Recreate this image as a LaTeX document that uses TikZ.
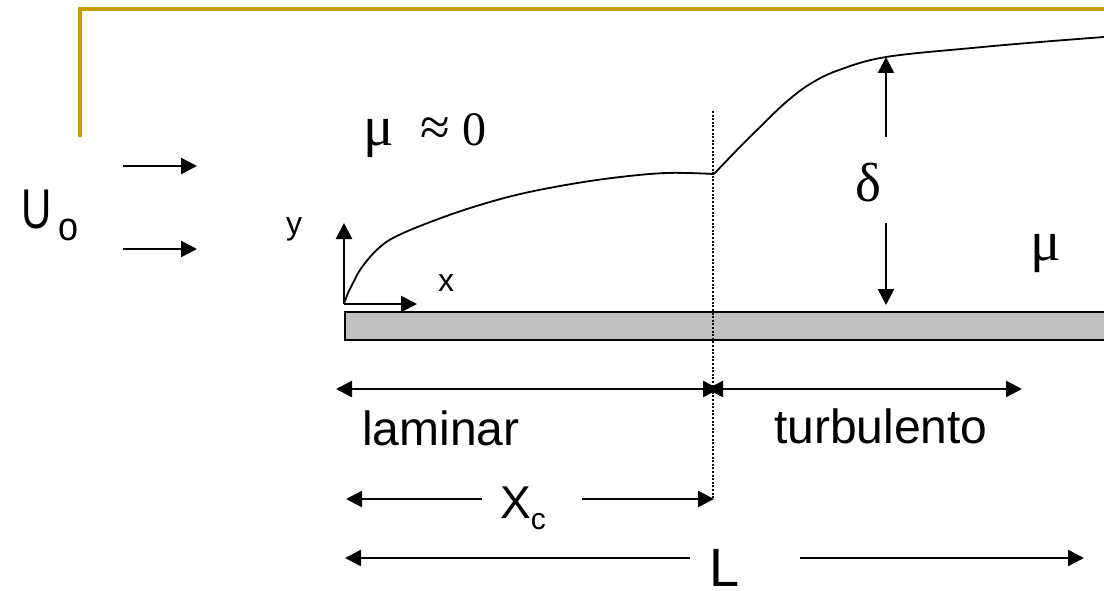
\documentclass[tikz,border=0pt]{standalone}
\usepackage{fontspec}
\usepackage{graphicx}
\setmainfont{Liberation Sans}
\newfontfamily\serifgr{Liberation Serif}
\usetikzlibrary{arrows.meta}
\definecolor{goldline}{RGB}{204,153,0}
\definecolor{plategray}{RGB}{192,192,192}
\tikzset{
  arr/.style={line width=2.5pt, -{Triangle[length=16pt,width=16pt]}},
  dimarr/.style={line width=2.5pt, {Triangle[length=16pt,width=16pt]}-{Triangle[length=16pt,width=16pt]}},
  lbl/.style={inner sep=0pt, anchor=base west},
  bl/.style={line width=1.8pt, line join=round},
}
\begin{document}
\begin{tikzpicture}[x=1pt,y=-1pt]
\useasboundingbox (0,0) rectangle (1104,591);
% gold frame
\draw[goldline, line width=4.5pt, line join=miter] (80,137) -- (80,9) -- (1104,9);
% plate
\node[draw, line width=1.8pt, fill=plategray, minimum width=764pt, minimum height=28pt, inner sep=0pt, anchor=north west] (plate) at (344,311) {};
% transition dotted line
\coordinate (dtop) at (713,111);
\coordinate (dbot) at (713,499);
\draw[line width=1.8pt, dash pattern=on 2pt off 1.6pt] (dtop) -- (dbot);
% boundary layer
\draw[bl] plot[smooth, tension=0.6] coordinates {(344,304) (348,293) (353,283) (360,270) (370,257) (380,247) (393,238) (420,226) (464,210) (512,196) (560,186) (612,178) (666,173) (714,174)};
\draw[bl] plot[smooth, tension=0.6] coordinates {(714,174) (735,152) (757,130) (785,103) (810,84) (839,70) (886,57) (972,48) (1040,42) (1104,37)};
% flow arrows
\coordinate (f1a) at (123,166); \coordinate (f1b) at (197,166);
\coordinate (f2a) at (123,249); \coordinate (f2b) at (197,249);
\draw[arr] (f1a) -- (f1b);
\draw[arr] (f2a) -- (f2b);
\node[lbl] (uo) at (21,229) {\fontsize{56}{56}\selectfont\scalebox{0.75}[1]{U}\hspace{7pt}\raisebox{-12pt}{\fontsize{40}{40}\selectfont\scalebox{0.9}[1]{o}}};
% axes
\coordinate (orig) at (344,304);
\coordinate (ytip) at (344,223);
\coordinate (xtip) at (417,304);
\draw[arr] (orig) -- (ytip);
\draw[arr] (orig) -- (xtip);
\node[inner sep=0pt, anchor=base] (ylab) at (294,235) {\fontsize{32}{32}\selectfont y};
\node[inner sep=0pt, anchor=base] (xlab) at (446,291) {\fontsize{32}{32}\selectfont x};
% mu approx 0
\node[lbl] (mu0) at (363,146) {\serifgr\makebox[57pt][l]{\fontsize{57}{57}\selectfont μ}\makebox[42pt][l]{\fontsize{54}{54}\selectfont ≈}\fontsize{48}{48}\selectfont 0};
% delta
\coordinate (dtopt) at (886,57);
\coordinate (dtopb) at (886,137);
\coordinate (dbott) at (886,223);
\coordinate (dbotb) at (886,305);
\draw[arr] (dtopb) -- (dtopt);
\draw[arr] (dbott) -- (dbotb);
\node[lbl] (delta) at (855,202) {\serifgr\fontsize{55}{55}\selectfont δ};
\node[lbl] (mu) at (1030,260) {\serifgr\fontsize{57}{57}\selectfont μ};
% laminar / turbulento
\coordinate (la) at (336,389); \coordinate (lb) at (719,389);
\coordinate (ta) at (707,389); \coordinate (tb) at (1022,389);
\draw[dimarr] (la) -- (lb);
\draw[dimarr] (ta) -- (tb);
\node[lbl] (lam) at (362,445) {\fontsize{48}{48}\selectfont laminar};
\node[lbl] (turb) at (774,443) {\fontsize{48}{48}\selectfont turbulento};
% x_c
\coordinate (xa1) at (482,499); \coordinate (xa2) at (346,499);
\coordinate (xb1) at (582,499); \coordinate (xb2) at (714,499);
\draw[arr] (xa1) -- (xa2);
\draw[arr] (xb1) -- (xb2);
\node[lbl] (xc) at (500,518) {\fontsize{46}{46}\selectfont X\raisebox{-11pt}{\fontsize{30}{30}\selectfont c}};
% L
\coordinate (La1) at (690,558); \coordinate (La2) at (345,558);
\coordinate (Lb1) at (800,558); \coordinate (Lb2) at (1084,558);
\draw[arr] (La1) -- (La2);
\draw[arr] (Lb1) -- (Lb2);
\node[lbl] (Llab) at (709,586) {\fontsize{54}{54}\selectfont L};
\end{tikzpicture}
\end{document}
